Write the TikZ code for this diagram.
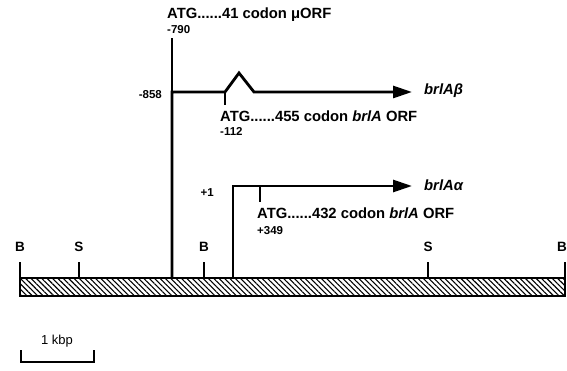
\documentclass[tikz,border=0pt]{standalone}
\usepackage{fontspec}
\setmainfont{Liberation Sans}
\usetikzlibrary{arrows.meta,patterns.meta}
\tikzset{
  thickln/.style={line width=2.8pt},
  thinln/.style={line width=1.5pt},
  arr/.style={thickln,-{Triangle[length=19pt,width=12pt]}},
  lbl/.style={font=\fontsize{14.8}{16}\selectfont\bfseries,inner sep=0pt},
  num/.style={font=\fontsize{11.5}{12}\selectfont\bfseries,inner sep=0pt},
  site/.style={font=\fontsize{13.5}{14}\selectfont\bfseries,inner sep=0pt}
}
\begin{document}
\begin{tikzpicture}[x=1pt,y=1pt]
\useasboundingbox (0,0) rectangle (567,-371);
% bar
\draw[line width=1.6pt,pattern={Lines[angle=-45,distance=3.8pt,line width=1.1pt]}] (20,-278) rectangle (565,-296);
% restriction sites
\foreach \x/\n/\t in {20/b1/B,79/s1/S,204/b2/B,428/s2/S,565/b3/B}{
  \coordinate (\n top) at (\x,-262);
  \coordinate (\n bot) at (\x,-278);
  \draw[thinln] (\n bot) -- (\n top);
}
\node[site] (b1) at (20,-247) {B};
\node[site] (s1) at (79,-247) {S};
\node[site] (b2) at (204,-247) {B};
\node[site] (s2) at (428,-247) {S};
\node[site,anchor=east] (b3) at (567,-247) {B};
% beta transcript
\coordinate (pB) at (172,-278);
\coordinate (jB) at (172,-92);
\coordinate (t790) at (172,-38);
\coordinate (k1) at (225,-92);
\coordinate (kpk) at (239,-73);
\coordinate (k2) at (254,-92);
\coordinate (eB) at (412,-92);
\coordinate (t112) at (225,-105);
\draw[thinln] (jB) -- (t790);
\draw[thinln] (k1) -- (t112);
\draw[arr,line join=miter] (pB) -- (jB) -- (k1) -- (kpk) -- (k2) -- (eB);
% alpha transcript
\coordinate (pA) at (233,-278);
\coordinate (jA) at (233,-186);
\coordinate (eA) at (412,-186);
\coordinate (k349a) at (260,-186);
\coordinate (k349b) at (260,-202);
\draw[thinln] (k349a) -- (k349b);
\draw[arr] (pA) -- (jA) -- (eA);
% labels
\node[lbl,anchor=west] (uorf) at (167,-15) {ATG......41 codon μORF};
\node[num,anchor=west] (n790) at (167,-30) {-790};
\node[num,anchor=east] (n858) at (162,-95) {-858};
\node[lbl,anchor=west] (orfB) at (220,-116) {ATG......455 codon \textit{brlA} ORF};
\node[num,anchor=west] (n112) at (220,-131) {-112};
\node[lbl,anchor=west] (nameB) at (424,-91) {\textit{brlAβ}};
\node[num,anchor=east] (n1) at (214,-193) {+1};
\node[lbl,anchor=west] (orfA) at (257,-213) {ATG......432 codon \textit{brlA} ORF};
\node[num,anchor=west] (n349) at (257,-231) {+349};
\node[lbl,anchor=west] (nameA) at (424,-185) {\textit{brlAα}};
% scale bar
\coordinate (s1) at (21,-350);
\coordinate (s2) at (21,-362);
\coordinate (s3) at (94,-362);
\coordinate (s4) at (94,-350);
\draw[line width=1.8pt] (s1) -- (s2) -- (s3) -- (s4);
\node[font=\fontsize{13}{14}\selectfont,inner sep=0pt] (kbp) at (57,-341) {1 kbp};
\end{tikzpicture}
\end{document}
